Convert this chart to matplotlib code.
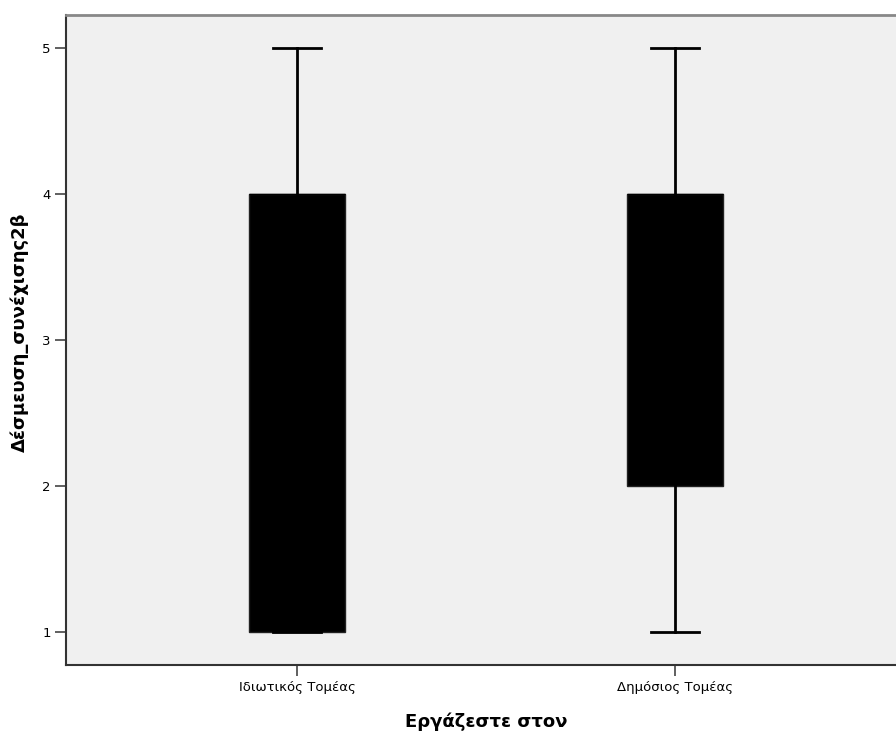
import matplotlib
matplotlib.use("Agg")
import matplotlib.pyplot as plt

categories = ["Ιδιωτικός Τομέας", "Δημόσιος Τομέας"]
whislo = [1, 1]
q1 = [1, 2]
med = [4, 4]
q3 = [4, 4]
whishi = [5, 5]
yticks = [1, 2, 3, 4, 5]

plt.rcParams['font.family'] = ['DejaVu Sans']

fig = plt.figure(figsize=(8.96, 7.31), dpi=100)
W, H = 896, 731
left, right, top, bottom = 66, 906, 15, 664.5
ax = fig.add_axes([left / W, 1 - bottom / H, (right - left) / W, (bottom - top) / H])
ax.set_facecolor('#F0F0F0')

stats = []
for i, c in enumerate(categories):
    stats.append(dict(label=c, whislo=whislo[i], q1=q1[i], med=med[i], q3=q3[i], whishi=whishi[i], fliers=[]))

ax.bxp(stats, positions=range(len(categories)), widths=0.254, patch_artist=True, showfliers=False,
       boxprops=dict(facecolor='black', edgecolor='#222222', linewidth=1),
       medianprops=dict(color='black', linewidth=1),
       whiskerprops=dict(color='black', linewidth=2),
       capprops=dict(color='black', linewidth=2),
       capwidths=0.127)

ax.set_xlim(-0.611, len(categories) - 1 + 0.611)
ax.set_ylim(0.775, 5.223)
ax.set_yticks(yticks)
ax.set_yticklabels([str(v) for v in yticks])
ax.set_xticks(range(len(categories)))
ax.set_xticklabels(categories)
ax.tick_params(axis='both', direction='out', length=8, width=1.2, color='#444444', labelsize=9.5, pad=3)
ax.tick_params(axis='x', pad=4)
for s in ['left', 'bottom']:
    ax.spines[s].set_color('#333333')
    ax.spines[s].set_linewidth(1.5)
ax.spines['top'].set_color('#888888')
ax.spines['top'].set_linewidth(2)
ax.spines['right'].set_color('#555555')

ax.set_xlabel('Εργάζεστε στον', fontsize=13, fontweight='bold', va='center')
ax.xaxis.set_label_coords(0.5, (bottom - 722) / (bottom - top))
ax.set_ylabel('Δέσμευση_συνέχισης2β', fontsize=13, fontweight='bold', va='center')
ax.yaxis.set_label_coords((20 - left) / (right - left), (bottom - 332) / (bottom - top))

fig.savefig('out.png', dpi=100)
